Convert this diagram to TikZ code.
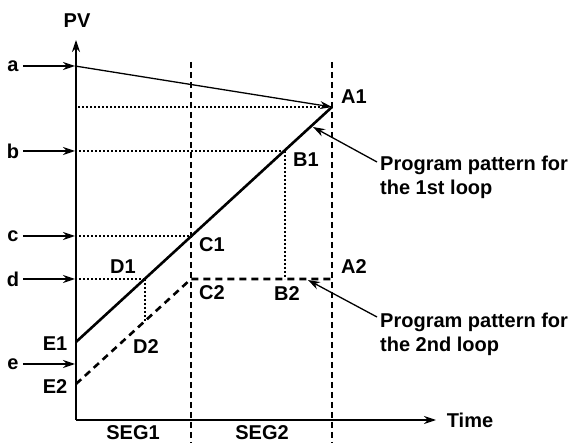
\documentclass[tikz,border=0pt]{standalone}
\usepackage{fontspec}
\setmainfont{Liberation Sans}
\usetikzlibrary{arrows.meta}

\tikzset{
  lbl/.style={font=\fontsize{20}{24}\selectfont\bfseries, inner sep=4pt},
  guide/.style={line width=1.1pt, dash pattern=on 2pt off 2pt},
  segline/.style={line width=1.1pt, dash pattern=on 6pt off 4pt},
  loopone/.style={line width=2.6pt},
  looptwo/.style={line width=2.6pt, dash pattern=on 7pt off 5pt},
  pointer/.style={->, line width=1.3pt}
}

\begin{document}
\begin{tikzpicture}[x=1pt, y=-1pt, >={Stealth[length=12pt,width=8pt]}]
    \useasboundingbox (0,0) rectangle (581,443);

    % Axes
    \coordinate (O) at (76,420);
    \coordinate (ytop) at (76,40);
    \coordinate (xend) at (436,420);
    \draw[->, line width=1.4pt] (O) -- (ytop);
    \draw[->, line width=1.4pt] (O) -- (xend);
    \node[lbl] (pv) at (77,21) {PV};
    \node[lbl] (time) at (470,420) {Time};

    % Points of the patterns
    \coordinate (A1) at (332,107);
    \coordinate (B1) at (285,151);
    \coordinate (C1) at (191,236);
    \coordinate (D1) at (145,279);
    \coordinate (E1) at (76,342);
    \coordinate (A2) at (332,279);
    \coordinate (B2) at (285,279);
    \coordinate (C2) at (191,279);
    \coordinate (D2) at (145,321);
    \coordinate (E2) at (76,384);

    % Segment borders
    \coordinate (s1top) at (191,62);
    \coordinate (s1bot) at (191,443);
    \coordinate (s2top) at (332,62);
    \coordinate (s2bot) at (332,443);
    \draw[segline] (s1top) -- (s1bot);
    \draw[segline] (s2top) -- (s2bot);
    \node[lbl] (seg1) at (133,433) {SEG1};
    \node[lbl] (seg2) at (262,433) {SEG2};

    % Levels on the PV axis
    \coordinate (ya) at (75,66);
    \coordinate (yA) at (78,107);
    \coordinate (yb) at (75,151);
    \coordinate (yc) at (75,236);
    \coordinate (yd) at (75,279);
    \coordinate (ye) at (75,364);
    \node[lbl] (la) at (13,66) {a};
    \node[lbl] (lb) at (13,151) {b};
    \node[lbl] (lc) at (13,236) {c};
    \node[lbl] (ld) at (13,279) {d};
    \node[lbl] (le) at (13,364) {e};
    \draw[pointer] (la) -- (ya);
    \draw[pointer] (lb) -- (yb);
    \draw[pointer] (lc) -- (yc);
    \draw[pointer] (ld) -- (yd);
    \draw[pointer] (le) -- (ye);

    % Guide lines
    \draw[guide] (yA) -- (A1);
    \draw[guide] (yb) -- (B1);
    \draw[guide] (yc) -- (C1);
    \draw[guide] (yd) -- (D1);
    \draw[guide] (B1) -- (B2);
    \draw[guide] (D1) -- (D2);

    % Patterns
    \draw[->, line width=1.3pt] (ya) -- (A1);
    \draw[loopone] (E1) -- (A1);
    \draw[looptwo] (E2) -- (C2) -- (A2);

    % Point labels
    \node[lbl] (lA1) at (354,97) {A1};
    \node[lbl] (lB1) at (306,160) {B1};
    \node[lbl] (lC1) at (212,245) {C1};
    \node[lbl] (lD1) at (123,267) {D1};
    \node[lbl] (lE1) at (55,344) {E1};
    \node[lbl] (lA2) at (354,267) {A2};
    \node[lbl] (lB2) at (287,294) {B2};
    \node[lbl] (lC2) at (212,293) {C2};
    \node[lbl] (lD2) at (146,347) {D2};
    \node[lbl] (lE2) at (55,387) {E2};

    % Pattern notes
    \coordinate (t1) at (313,127);
    \coordinate (t2) at (308,280);
    \node[lbl, anchor=west, align=left, inner sep=3pt] (p1) at (377,177) {Program pattern for\\the 1st loop};
    \node[lbl, anchor=west, align=left, inner sep=3pt] (p2) at (377,334) {Program pattern for\\the 2nd loop};
    \draw[pointer] ([yshift=15pt]p1.west) -- (t1);
    \draw[pointer] ([yshift=17pt]p2.west) -- (t2);
\end{tikzpicture}
\end{document}
